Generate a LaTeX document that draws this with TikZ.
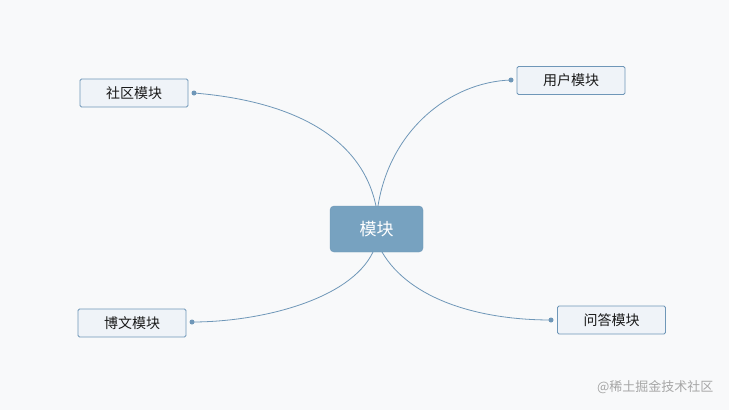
\documentclass[tikz,border=0pt]{standalone}
\usepackage{fontspec}
\newfontfamily\cjk{Noto Sans CJK SC}
\definecolor{bg}{HTML}{F8F9FA}
\definecolor{mainc}{HTML}{77A2C0}
\definecolor{subf}{HTML}{EFF3F8}
\definecolor{line}{HTML}{6F97B8}
\tikzset{
  sub/.style={draw=line,line width=0.9pt,fill=subf,rounded corners=1.5pt,minimum width=108pt,minimum height=28pt,font=\cjk\fontsize{14}{14}\selectfont,text=black!90},
  conn/.style={draw=line,line width=0.8pt},
  dotc/.style={circle,fill=line,inner sep=0pt,minimum size=5pt}
}
\begin{document}
\begin{tikzpicture}[x=1pt,y=-1pt]
\fill[bg] (0,0) rectangle (729,410);
\useasboundingbox (0,0) rectangle (729,410);
\node[fill=mainc,draw=line,rounded corners=4pt,minimum width=93pt,minimum height=46pt,font=\cjk\fontsize{17}{17}\selectfont,text=white] (m) at (376.5,229) {模块};
\node[sub] (s1) at (134,93) {社区模块};
\node[sub] (s2) at (571,80.5) {用户模块};
\node[sub] (s3) at (132,323) {博文模块};
\node[sub] (s4) at (611.5,320) {问答模块};
\node[dotc] (d1) at (194,93) {};
\node[dotc] (d2) at (511,80) {};
\node[dotc] (d3) at (192,322) {};
\node[dotc] (d4) at (551,320) {};
\coordinate (t1) at (376,206);
\coordinate (t2) at (378,206);
\coordinate (b1) at (373,252);
\coordinate (b2) at (382,252);
\draw[conn] (t1) .. controls (360,130) and (280,100) .. (d1.center);
\draw[conn] (t2) .. controls (390,130) and (450,82) .. (d2.center);
\draw[conn] (b1) .. controls (350,300) and (260,322) .. (d3.center);
\draw[conn] (b2) .. controls (410,300) and (480,320) .. (d4.center);
\node[font=\cjk\fontsize{13}{13}\selectfont,text=black!35,anchor=east] (w) at (717,387) {@稀土掘金技术社区};
\end{tikzpicture}
\end{document}
